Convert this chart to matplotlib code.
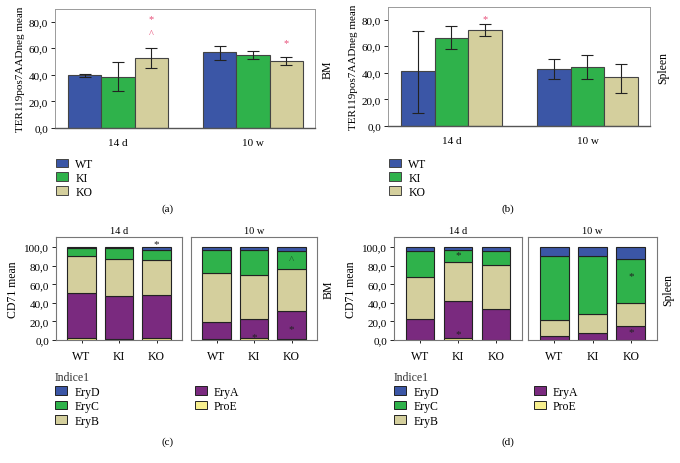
import numpy as np
import matplotlib
matplotlib.use('Agg')
import matplotlib.pyplot as plt
from matplotlib.patches import Patch
from matplotlib.ticker import FuncFormatter

plt.rcParams['font.family'] = ['Liberation Serif', 'DejaVu Serif']
plt.rcParams['font.size'] = 7.5

# ---- data -------------------------------------------------------------
groups = ['14 d', '10 w']
genotypes = ['WT', 'KI', 'KO']
geno_colors = ['#3b56a6', '#2fb24b', '#d4cf9d']

# panel (a) BM, panel (b) spleen: mean and error-bar ends per genotype
bm_mean = {'14 d': [39.5, 38.5, 53.0], '10 w': [57.0, 55.0, 50.5]}
bm_lo = {'14 d': [38.5, 27.5, 45.5], '10 w': [51.5, 52.0, 47.5]}
bm_hi = {'14 d': [40.5, 49.5, 60.5], '10 w': [62.0, 58.0, 53.5]}
sp_mean = {'14 d': [41.0, 66.5, 72.5], '10 w': [43.0, 44.0, 36.5]}
sp_lo = {'14 d': [10.0, 58.0, 67.5], '10 w': [35.5, 35.0, 25.0]}
sp_hi = {'14 d': [71.5, 75.5, 77.0], '10 w': [50.5, 53.5, 47.0]}

# stacked panels: bottom to top
stages = ['ProE', 'EryA', 'EryB', 'EryC', 'EryD']
stage_colors = {'ProE': '#f7ef8e', 'EryA': '#7a2a7f', 'EryB': '#d4cf9d',
                'EryC': '#2fb24b', 'EryD': '#3b56a6'}
bm_stack = {
    '14 d': {'ProE': [2.5, 1.4, 2.2], 'EryA': [47.7, 45.5, 46.2],
             'EryB': [40.1, 40.1, 38.2], 'EryC': [9.0, 11.9, 10.9],
             'EryD': [0.7, 1.1, 2.5]},
    '10 w': {'ProE': [0.7, 1.8, 0.7], 'EryA': [18.8, 21.3, 30.3],
             'EryB': [52.3, 46.6, 45.5], 'EryC': [25.7, 27.1, 19.9],
             'EryD': [2.5, 3.2, 3.6]},
}
sp_stack = {
    '14 d': {'ProE': [0.3, 1.8, 0.3], 'EryA': [22.7, 39.7, 32.7],
             'EryB': [44.4, 42.5, 48.2], 'EryC': [28.7, 13.5, 14.9],
             'EryD': [3.9, 2.5, 3.9]},
    '10 w': {'ProE': [0.3, 0.3, 0.3], 'EryA': [4.3, 7.1, 14.9],
             'EryB': [16.7, 20.6, 25.2], 'EryC': [69.1, 62.8, 46.8],
             'EryD': [9.6, 9.2, 12.8]},
}

# significance marks: (group, genotype index, y, symbol)
bm_marks = [('14 d', 2, 82, '*'), ('14 d', 2, 71, '^'), ('10 w', 2, 64, '*')]
sp_marks = [('14 d', 2, 81, '*')]
bm_stack_marks = [('14 d', 2, 104, '*'), ('10 w', 1, 4, '*'),
                  ('10 w', 2, 12.5, '*'), ('10 w', 2, 87, '^')]
sp_stack_marks = [('14 d', 1, 92.5, '*'), ('14 d', 1, 6.5, '*'),
                  ('10 w', 2, 69.5, '*'), ('10 w', 2, 9.5, '*')]

fmt = FuncFormatter(lambda v, p: ('%.1f' % v).replace('.', ','))
W, H = 680, 464


def box(l, t, r, b):
    return [l / W, 1 - b / H, (r - l) / W, (b - t) / H]


fig = plt.figure(figsize=(6.8, 4.64), dpi=100)


def grouped(rect, mean, lo, hi, marks, side, ylabel):
    ax = fig.add_axes(rect)
    width = 0.247
    for gi, g in enumerate(groups):
        for k in range(3):
            x = gi + (k - 1) * width
            m = mean[g][k]
            ax.bar(x, m, width, color=geno_colors[k], edgecolor='#444444',
                   linewidth=0.8, zorder=2)
            ax.errorbar(x, m, yerr=[[m - lo[g][k]], [hi[g][k] - m]],
                        fmt='none', ecolor='#222222', elinewidth=0.8,
                        capsize=4, capthick=0.8, zorder=3)
    for g, k, y, s in marks:
        ax.text(groups.index(g) + (k - 1) * width, y, s, ha='center',
                va='center', color='#e8507a', fontsize=7.5)
    ax.set_xlim(-0.467, 1.46)
    ax.set_ylim(0, 89.5)
    ax.set_yticks([0, 20, 40, 60, 80])
    ax.yaxis.set_major_formatter(fmt)
    ax.set_xticks([0, 1])
    ax.set_xticklabels(groups, fontsize=8)
    ax.tick_params(axis='x', length=0, pad=7)
    ax.tick_params(axis='y', length=3, width=0.6, pad=2, labelsize=8)
    for sp in ['top', 'right', 'left']:
        ax.spines[sp].set_color('#9a9a9a')
        ax.spines[sp].set_linewidth(0.7)
    ax.spines['bottom'].set_color('#555555')
    ax.spines['bottom'].set_linewidth(1.0)
    ax.set_ylabel(ylabel, labelpad=3, fontsize=8)
    ax.text(1.05, 0.5, side, rotation=90, ha='center', va='center',
            transform=ax.transAxes, fontsize=8.5)
    return ax


def stacked(rects, data, marks, side):
    axes = []
    x = np.arange(3)
    for gi, g in enumerate(groups):
        ax = fig.add_axes(rects[gi])
        bottom = np.zeros(3)
        for st in stages:
            vals = np.array(data[g][st])
            ax.bar(x, vals, 0.75, bottom=bottom, color=stage_colors[st],
                   edgecolor='#222222', linewidth=0.8)
            bottom += vals
        for mg, k, y, s in marks:
            if mg == g:
                col = '#1d5a2a' if s == '^' else '#222222'
                ax.text(k, y, s, ha='center', va='center', color=col,
                        fontsize=8)
        ax.set_xlim(-0.68, 2.68)
        ax.set_ylim(0, 111)
        ax.set_xticks(x)
        ax.set_xticklabels(genotypes, fontsize=8.5)
        ax.tick_params(axis='x', length=2.5, width=0.6, pad=5)
        ax.set_title(g, fontsize=7.5, pad=3)
        for sp in ax.spines.values():
            sp.set_color('#777777')
            sp.set_linewidth(0.8)
        if gi == 0:
            ax.set_yticks([0, 20, 40, 60, 80, 100])
            ax.yaxis.set_major_formatter(fmt)
            ax.tick_params(axis='y', length=3, width=0.6, pad=2, labelsize=8)
            ax.set_ylabel('CD71 mean', fontsize=8.5, labelpad=4)
        else:
            ax.set_yticks([])
            ax.text(1.09, 0.5, side, rotation=90, ha='center', va='center',
                    transform=ax.transAxes, fontsize=8.5)
        axes.append(ax)
    return axes


ax_a = grouped(box(55, 10, 315, 129), bm_mean, bm_lo, bm_hi, bm_marks,
               'BM', 'TER119pos7AADneg mean')
ax_b = grouped(box(388, 8, 650, 127), sp_mean, sp_lo, sp_hi, sp_marks,
               'Spleen', 'TER119pos7AADneg mean')
ax_c = stacked([box(56, 238, 182, 341), box(191, 238, 317, 341)],
               bm_stack, bm_stack_marks, 'BM')
ax_d = stacked([box(394, 238, 522, 341), box(528, 238, 657, 341)],
               sp_stack, sp_stack_marks, 'Spleen')

# legends
geno_handles = [Patch(facecolor=c, edgecolor='#444444', linewidth=0.7, label=l)
                for c, l in zip(geno_colors, genotypes)]
for lx in [56, 389]:
    fig.legend(handles=geno_handles, loc='upper left',
               bbox_to_anchor=(lx / W, 1 - 159 / H), frameon=False,
               handlelength=1.05, handleheight=0.75, handletextpad=0.6,
               labelspacing=0.15, fontsize=8.5, borderpad=0, borderaxespad=0)

order = ['EryD', 'EryC', 'EryB', 'EryA', 'ProE']
stage_handles = [Patch(facecolor=stage_colors[s], edgecolor='#222222',
                       linewidth=0.7, label=s) for s in order]
for lx in [55, 394]:
    leg = fig.legend(handles=stage_handles, loc='upper left', ncol=2,
                     title='Indice1', alignment='left',
                     bbox_to_anchor=(lx / W, 1 - 372 / H), frameon=False,
                     handlelength=1.05, handleheight=0.75, handletextpad=0.6,
                     labelspacing=0.22, columnspacing=8.0, fontsize=8.5,
                     title_fontsize=8.5, borderpad=0, borderaxespad=0)
    leg.get_title().set_color('#333333')

for lab, cx, cy in [('(a)', 168, 209), ('(b)', 508, 209),
                    ('(c)', 168, 442), ('(d)', 508, 442)]:
    fig.text(cx / W, 1 - cy / H, lab, ha='center', va='center', fontsize=8)

fig.savefig('out.png', dpi=100)
